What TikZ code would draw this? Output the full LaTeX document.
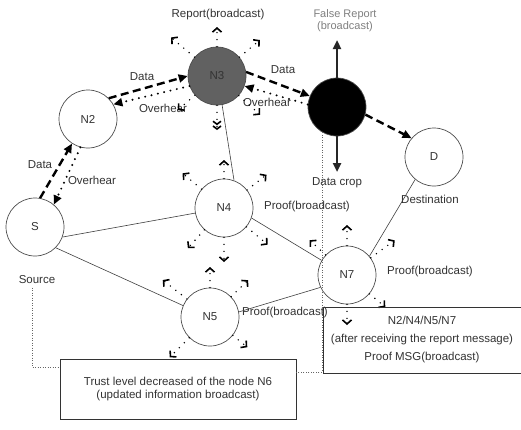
\documentclass[tikz,border=0pt]{standalone}
\usepackage{fontspec}
\setmainfont{Liberation Sans}
\usetikzlibrary{arrows.meta,calc}
\begin{document}
\begin{tikzpicture}[x=1pt,y=-1pt,
  every node/.style={font=\fontsize{11.5}{13}\selectfont, text=black!80},
  nd/.style={circle,draw=black!70,line width=0.7pt,minimum size=58pt,inner sep=0pt},
  link/.style={draw=black!75,line width=0.6pt},
  dataarrow/.style={draw=black,line width=2.4pt,dash pattern=on 8pt off 4.5pt,-{Triangle[length=9pt,width=8pt]}},
  ovarrow/.style={draw=black,line width=2.2pt,dash pattern=on 0pt off 6.5pt,line cap=round,-{Triangle[length=9pt,width=8pt]}},
  solidarrow/.style={draw=black!85,line width=2.4pt,-{Triangle[length=9pt,width=8pt]}},
  bc/.style={draw=black,line width=1.6pt,dash pattern=on 0pt off 7pt,line cap=round,-{Straight Barb[length=4pt,width=9pt]}},
  bctwo/.style={draw=black,line width=1.6pt,dash pattern=on 0pt off 7pt,line cap=round,-{Straight Barb[length=3pt,width=8pt]Straight Barb[length=3pt,width=8pt]}},
  conn/.style={draw=black!60,line width=0.8pt,dash pattern=on 1pt off 1.5pt},
  boxstyle/.style={draw=black!80,line width=0.8pt,align=center,inner sep=2pt}
]
\fill[white] (0,0) rectangle (521,429);
\useasboundingbox (0,0) rectangle (521,429);

% nodes
\node[nd,fill=black!62] (N3) at (217,76) {N3};
\node[nd] (N2) at (88,119) {N2};
\node[nd,fill=black] (N6) at (337,107) {};
\node[nd] (D) at (434,157) {D};
\node[nd] (S) at (35,227) {S};
\node[nd] (N4) at (224,208) {N4};
\node[nd] (N5) at (210,317) {N5};
\node[nd] (N7) at (347,275) {N7};

% labels
\node (rep) at (218,15) {Report(broadcast)};
\node[text=black!50,align=center,font=\fontsize{11}{12}\selectfont] (fr) at (345,21) {False Report\\(broadcast)};
\node (dc) at (337,183) {Data crop};
\node (dst) at (430,199) {Destination};
\node (src) at (37,280) {Source};
\node (p4) at (307,207) {Proof(broadcast)};
\node (p7) at (430,272) {Proof(broadcast)};
\node (p5) at (285,313) {Proof(broadcast)};
\node (d1) at (142,77) {Data};
\node (o1) at (163,108) {Overhear};
\node (d2) at (40,165) {Data};
\node (o2) at (92,180) {Overhear};
\node (d3) at (283,70) {Data};
\node (o3) at (267,102) {Overhear};

% thin links
\draw[link] (N3.280) -- (N4.70);
\draw[link] (S.-20) -- (N4.190);
\draw[link] (S.-45) -- (N5.157);
\draw[link] (N4.-20) -- (N7.150);
\draw[link] (N5.10) -- (N7.205);
\draw[link] (D.230) -- (N7.40);

% data / overhear
\draw[dataarrow] (N2.45) -- (N3.180);
\draw[ovarrow] (N3.200) -- (N2.30);
\draw[dataarrow] (S.80) -- (N2.237);
\draw[ovarrow] (N2.255) -- (S.50);
\draw[dataarrow] (N3.8) -- (N6.158);
\draw[ovarrow] (N6.175) -- (N3.340);
\draw[dataarrow] (N6.-15) -- (D.140);

% false report / data drop
\coordinate (fru) at (337,40);
\coordinate (dcd) at (337,172);
\draw[solidarrow] (N6.90) -- (fru);
\draw[solidarrow] (N6.270) -- (dcd);

% broadcast markers
\foreach \a/\r in {90/49,140/60,40/56,221/52,-42/58}
  \draw[bc] (N3.\a) -- ($(N3)+(\a:\r pt)$);
\draw[bctwo] (N3.270) -- ($(N3)+(270:54pt)$);
\foreach \a/\r in {90/48,140/54,38/54,228/54,-40/57,270/54}
  \draw[bc] (N4.\a) -- ($(N4)+(\a:\r pt)$);
\foreach \a/\r in {90/50,142/60,44/53,225/57,-39/48}
  \draw[bc] (N5.\a) -- ($(N5)+(\a:\r pt)$);
\foreach \a/\r in {90/50,137/51,36/59,-40/50,270/50}
  \draw[bc] (N7.\a) -- ($(N7)+(\a:\r pt)$);

% boxes
\node[boxstyle,fill=white,minimum width=236pt,minimum height=60pt] (box1) at (178,389)
  {Trust level decreased of the node N6\\(updated information broadcast)};
\node[boxstyle,minimum width=198pt,minimum height=66pt,font=\fontsize{11.5}{18}\selectfont] (box2) at (422,340)
  {N2/N4/N5/N7\\(after receiving the report message)\\Proof MSG(broadcast)};

% dotted connectors to box
\coordinate (b1l) at (60,367);
\coordinate (b1r) at (296,372);
\draw[conn] ([xshift=-5pt]src.south) |- (b1l);
\draw[conn] (N6.240) |- (b1r);
\end{tikzpicture}
\end{document}
